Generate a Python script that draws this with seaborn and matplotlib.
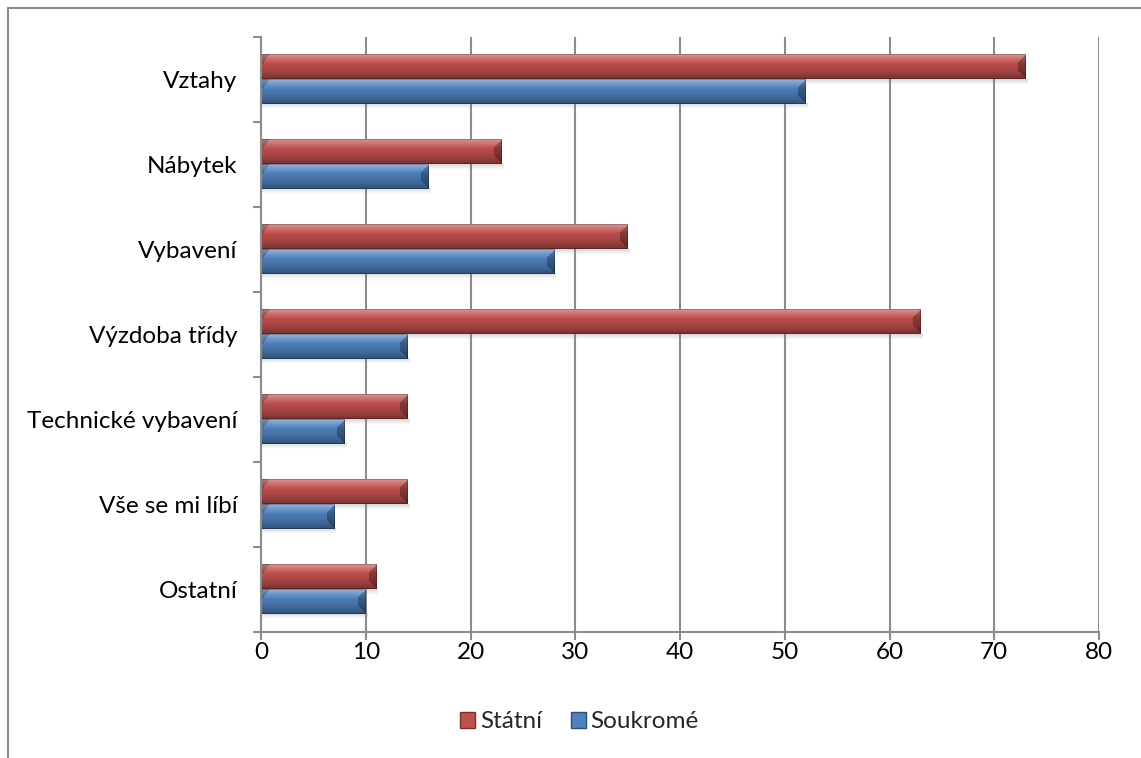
import numpy as np
import pandas as pd
import matplotlib
matplotlib.use("Agg")
import matplotlib.pyplot as plt
import seaborn as sns
from matplotlib.patches import Rectangle
from matplotlib.lines import Line2D
from matplotlib.colors import to_rgb

# Survey answers by school type
categories = ["Vztahy", "Nábytek", "Vybavení", "Výzdoba třídy",
              "Technické vybavení", "Vše se mi líbí", "Ostatní"]
statni = [73, 23, 35, 63, 14, 14, 11]
soukrome = [52, 16, 28, 14, 8, 7, 10]
series = ["Státní", "Soukromé"]
x_ticks = [0, 10, 20, 30, 40, 50, 60, 70, 80]

df = pd.DataFrame({
    "Kategorie": categories * 2,
    "Typ": [series[0]] * len(categories) + [series[1]] * len(categories),
    "Hodnota": statni + soukrome,
})

sns.set_theme(style="white")
plt.rcParams["font.family"] = ["Lato", "DejaVu Sans"]

RED = "#C0504D"
BLUE = "#4F81BD"
GRID = "#8C8C8C"
FS = 17.5

fig = plt.figure(figsize=(11.41, 7.58), dpi=100)
ax = fig.add_axes([261 / 1141, 1 - 632 / 758, 838 / 1141, 595 / 758])

sns.barplot(data=df, y="Kategorie", x="Hodnota", hue="Typ",
            order=categories, hue_order=series,
            palette=[RED, BLUE], orient="h", width=0.565,
            ax=ax, legend=False, saturation=1)

ax.set_xlim(0, 80)
ax.set_ylim(len(categories) - 0.5, -0.5)


def shade(rgb, f):
    rgb = np.asarray(rgb)
    if f >= 1:
        return rgb + (1 - rgb) * (f - 1)
    return rgb * f


def bevel_image(base, w_px, h_px, bw=8):
    base = np.array(to_rgb(base))
    h, w = max(int(round(h_px)), 2), max(int(round(w_px)), 2)
    t = np.linspace(0, 1, h)
    # vertical light-to-dark ramp
    stops_t = [0.0, 0.1, 0.4, 0.75, 1.0]
    stops_f = [1.40, 1.28, 0.97, 0.80, 0.62]
    fac = np.interp(t, stops_t, stops_f)
    col = np.array([shade(base, f) for f in fac])
    img = np.repeat(col[:, None, :], w, axis=1)
    jj = np.arange(w)[None, :]
    ii = np.arange(h)[:, None]
    d_left = jj
    d_right = w - 1 - jj
    d_top = ii
    d_bot = h - 1 - ii
    # darker corner wedges at both ends of the upper half
    upper = d_top < h * 0.45
    left_wedge = upper & (d_left < bw) & (d_left < d_top * 0 + bw - d_top * bw / (h * 0.45))
    right_face = (d_right < bw) & (d_right < np.minimum(d_top, d_bot))
    img[left_wedge] *= 0.8
    img[right_face] *= 0.72
    edge = (d_top == 0) | (d_bot == 0) | (d_left == 0) | (d_right == 0)
    img[edge] *= 0.75
    return np.clip(img, 0, 1)


fig.canvas.draw()
to_px = ax.transData
for patch in list(ax.patches):
    x0, y0 = patch.get_x(), patch.get_y()
    w, h = patch.get_width(), patch.get_height()
    if w <= 0:
        continue
    color = patch.get_facecolor()
    p0 = to_px.transform((x0, y0))
    p1 = to_px.transform((x0 + w, y0 + h))
    w_px, h_px = abs(p1[0] - p0[0]), abs(p1[1] - p0[1])
    # soft shadow under the bar
    sh_h = 0.07
    sh = np.zeros((8, 2, 4))
    sh[:, :, :3] = 0.5
    sh[:, :, 3] = np.linspace(0.3, 0.0, 8)[:, None]
    ax.imshow(sh, extent=(x0 + 0.1, x0 + w + 0.15, y0 + h + sh_h, y0 + h),
              aspect="auto", interpolation="bilinear", zorder=1.5)
    img = bevel_image(color[:3], w_px, h_px)
    ax.imshow(img, extent=(x0, x0 + w, y0 + h, y0), aspect="auto",
              interpolation="nearest", zorder=2.5)
    patch.set_visible(False)

ax.set_xlim(0, 80)
ax.set_ylim(len(categories) - 0.5, -0.5)

# axes, grid and ticks
ax.set_xticks(x_ticks)
ax.set_xticklabels([str(v) for v in x_ticks])
ax.xaxis.grid(True, color=GRID, linewidth=1.5)
ax.yaxis.grid(False)
ax.set_axisbelow(True)
ax.set_yticks(range(len(categories)))
ax.set_yticklabels(categories)
ax.set_yticks(np.arange(-0.5, len(categories) + 0.5, 1), minor=True)
ax.tick_params(axis="y", which="major", length=0, pad=17, labelsize=FS,
               labelcolor="black")
ax.tick_params(axis="y", which="minor", length=6, width=1.5, color=GRID,
               left=True)
ax.tick_params(axis="x", which="major", length=6, width=1.5, color=GRID,
               bottom=True, pad=1, labelsize=FS, labelcolor="black")
for side in ("top", "right"):
    ax.spines[side].set_visible(False)
for side in ("left", "bottom"):
    ax.spines[side].set_visible(True)
    ax.spines[side].set_color(GRID)
    ax.spines[side].set_linewidth(1.5)
ax.set_xlabel("")
ax.set_ylabel("")

# legend
handles = [Rectangle((0, 0), 1, 1, facecolor=RED, edgecolor="#7a2f2d", linewidth=1),
           Rectangle((0, 0), 1, 1, facecolor=BLUE, edgecolor="#2c4d75", linewidth=1)]
fig.legend(handles, series, loc="center", bbox_to_anchor=(0.508, 0.0475),
           ncol=2, frameon=False, fontsize=FS, handlelength=0.6,
           handleheight=0.6, handletextpad=0.2, columnspacing=1.2)

# chart frame (clipped at the right and bottom edges)
fig.add_artist(Line2D([8 / 1141, 8 / 1141], [0, 1 - 8 / 758],
                      transform=fig.transFigure, color=GRID, linewidth=1.5))
fig.add_artist(Line2D([8 / 1141, 1], [1 - 8 / 758, 1 - 8 / 758],
                      transform=fig.transFigure, color=GRID, linewidth=1.5))

fig.savefig("out.png", dpi=100, facecolor="white")
